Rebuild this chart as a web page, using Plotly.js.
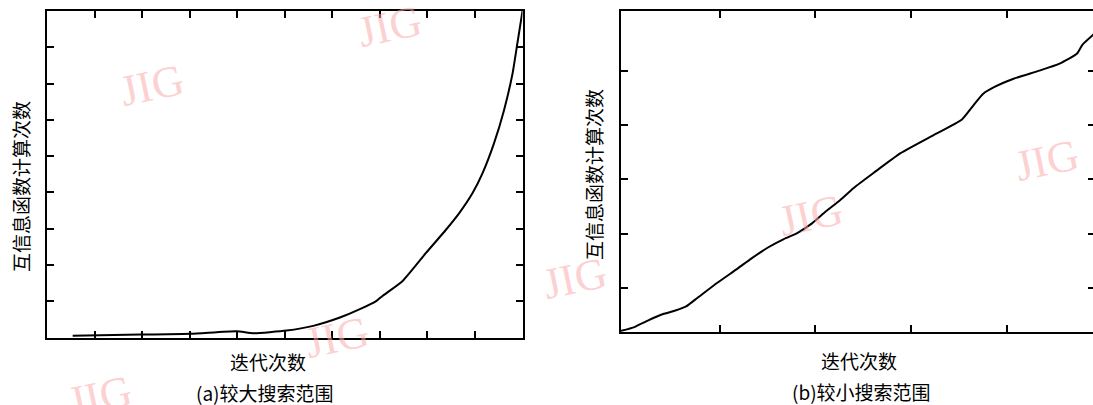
<!DOCTYPE html>
<html>
<head>
<meta charset="utf-8">
<script src="https://cdn.plot.ly/plotly-3.0.1.min.js"></script>
<style>
html,body{margin:0;padding:0;overflow:hidden;background:#fff;}
#chart{width:1096px;height:405px;}
</style>
</head>
<body>
<div id="chart"></div>
<script>
// Panel (a): larger search range — iteration (tick units) vs MI evaluations (tick units)
const iterA = [0.54, 1.97, 3.02, 3.99, 4.34, 5.04, 5.60, 6.16, 6.58, 6.93, 7.06, 7.48, 7.97, 8.39, 8.67, 8.95, 9.16, 9.40, 9.61, 9.79, 9.89, 10.0];
const countA = [0.05, 0.08, 0.10, 0.17, 0.12, 0.19, 0.32, 0.55, 0.78, 1.01, 1.15, 1.56, 2.33, 2.97, 3.43, 3.98, 4.53, 5.35, 6.26, 7.27, 8.09, 9.0];

// Panel (b): smaller search range
const iterB = [-0.03, 0.11, 0.25, 0.41, 0.53, 0.65, 0.77, 0.98, 1.19, 1.33, 1.50, 1.67, 1.81, 1.95, 2.09, 2.26, 2.40, 2.61, 2.89, 3.20, 3.53, 3.65, 3.75, 3.86, 4.07, 4.34, 4.55, 4.73, 4.79, 4.90, 4.94];
const countB = [0.21, 0.28, 0.40, 0.52, 0.58, 0.66, 0.82, 1.10, 1.36, 1.54, 1.74, 1.90, 2.01, 2.17, 2.38, 2.62, 2.84, 3.12, 3.48, 3.78, 4.10, 4.36, 4.57, 4.69, 4.85, 5.00, 5.13, 5.31, 5.48, 5.66, 5.72];

const xTitle = "迭代次数";
const yTitle = "互信息函数计算次数";
const capA = "(a)较大搜索范围";
const capB = "(b)较小搜索范围";
const watermark = "JIG";

const W = 1096, H = 405;
const fx = p => p / W;
const fy = p => 1 - p / H;

const cjk = "'Noto Sans CJK SC', 'Noto Sans', sans-serif";

const axisCommon = {
  showgrid: false, zeroline: false, showline: true, linecolor: '#000', linewidth: 2,
  mirror: 'ticks', ticks: 'inside', ticklen: 7, tickwidth: 2, tickcolor: '#000',
  showticklabels: false, fixedrange: true
};

const traces = [
  {x: iterA, y: countA, xaxis: 'x', yaxis: 'y', mode: 'lines', line: {color: '#000', width: 2, shape: 'spline', smoothing: 0.5}, hoverinfo: 'skip'},
  {x: iterB, y: countB, xaxis: 'x2', yaxis: 'y2', mode: 'lines', line: {color: '#000', width: 2, shape: 'spline', smoothing: 0.5}, hoverinfo: 'skip'}
];

const wmPos = [[152, 85], [390, 27], [337, 337], [100, 396], [575, 278], [811, 215], [1047, 160]];
const annotations = [
  {text: xTitle, x: fx(268), y: fy(361)},
  {text: capA, x: fx(265), y: fy(392)},
  {text: xTitle, x: fx(859), y: fy(360)},
  {text: capB, x: fx(861), y: fy(391)},
  {text: yTitle, x: fx(21), y: fy(187), textangle: -90},
  {text: yTitle, x: fx(594), y: fy(175), textangle: -90}
].map(a => Object.assign({xref: 'paper', yref: 'paper', showarrow: false, xanchor: 'center', yanchor: 'middle',
  font: {family: cjk, size: 19, color: '#000'}}, a));

wmPos.forEach(p => annotations.push({
  text: watermark, x: fx(p[0]), y: fy(p[1]), xref: 'paper', yref: 'paper', showarrow: false,
  xanchor: 'center', yanchor: 'middle', textangle: -12,
  font: {family: "'Liberation Serif', serif", size: 44, color: 'rgba(248,170,170,0.55)'}
}));

const layout = {
  width: W, height: H,
  margin: {l: 0, r: 0, t: 0, b: 0},
  paper_bgcolor: '#fff', plot_bgcolor: 'rgba(0,0,0,0)',
  showlegend: false,
  xaxis: Object.assign({}, axisCommon, {domain: [fx(47), fx(522.5)], range: [0, 10], tickvals: [1,2,3,4,5,6,7,8,9], anchor: 'y'}),
  yaxis: Object.assign({}, axisCommon, {domain: [fy(337.5), fy(11)], range: [0, 9], tickvals: [1,2,3,4,5,6,7,8], anchor: 'x'}),
  xaxis2: Object.assign({}, axisCommon, {domain: [fx(621), fx(1095)], range: [-0.03, 4.92], tickvals: [1,2,3,4], anchor: 'y2'}),
  yaxis2: Object.assign({}, axisCommon, {domain: [fy(332.3), fy(10.5)], range: [0.184, 6.106], tickvals: [1,2,3,4,5], anchor: 'x2'}),
  annotations: annotations
};

Plotly.newPlot('chart', traces, layout, {staticPlot: true, displayModeBar: false});
</script>
</body>
</html>
